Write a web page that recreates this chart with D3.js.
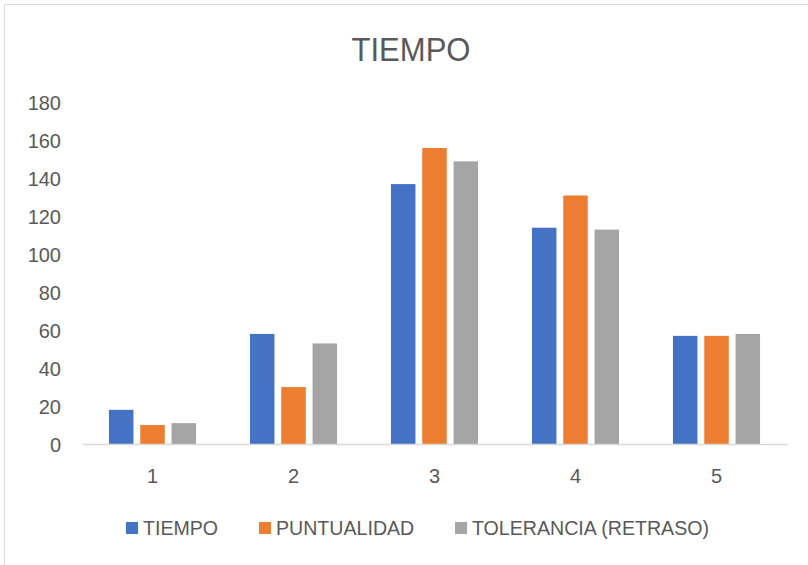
<!DOCTYPE html>
<html>
<head>
<meta charset="utf-8">
<script src="https://cdn.jsdelivr.net/npm/d3@7"></script>
<style>
  html, body { margin: 0; padding: 0; background: #fff; }
  svg { display: block; }
  text { font-family: "Liberation Sans", Arial, sans-serif; fill: #595959; }
</style>
</head>
<body>
<svg id="chart" width="808" height="565"></svg>
<script>
// Categories and series
const categories = ["1", "2", "3", "4", "5"];
const seriesNames = ["TIEMPO", "PUNTUALIDAD", "TOLERANCIA (RETRASO)"];
const tiempo = [18, 58, 137, 114, 57];
const puntualidad = [10, 30, 156, 131, 57];
const tolerancia = [11, 53, 149, 113, 58];
const yTicks = [0, 20, 40, 60, 80, 100, 120, 140, 160, 180];
const colors = ["#4472C4", "#ED7D31", "#A5A5A5"];
const chartTitle = "TIEMPO";

const seriesValues = [tiempo, puntualidad, tolerancia];

const svg = d3.select("#chart");
const W = 808, H = 565;

// chart frame
svg.append("path")
  .attr("d", `M4.5,${H} V4.5 H${W}`)
  .attr("fill", "none")
  .attr("stroke", "#D9D9D9")
  .attr("stroke-width", 1);

const plot = { left: 82, right: 787, top: 102.5, bottom: 444 };

const x = d3.scaleBand()
  .domain(categories)
  .range([plot.left, plot.right])
  .paddingInner(0)
  .paddingOuter(0);

const y = d3.scaleLinear()
  .domain([0, 180])
  .range([plot.bottom, plot.top]);

// bars inside each category: 3 bars with small gaps, centered
const barW = 24.5, barGap = 6.8;
const groupW = 3 * barW + 2 * barGap;
const inner = d3.scaleBand()
  .domain(seriesNames)
  .range([0, groupW])
  .paddingInner(barGap / (barW + barGap))
  .paddingOuter(0);

const rows = categories.map((c, i) => ({
  cat: c,
  vals: seriesNames.map((s, k) => ({ s, k, v: seriesValues[k][i] }))
}));

// y axis labels (no line)
const yAxis = d3.axisLeft(y).tickValues(yTicks).tickSize(0).tickPadding(0);
const gy = svg.append("g")
  .attr("transform", `translate(61,0)`)
  .call(yAxis);
gy.select(".domain").remove();
gy.selectAll("text")
  .attr("font-size", 20)
  .attr("fill", "#595959")
  .attr("font-family", "Liberation Sans, Arial, sans-serif")
  .attr("dy", "0.36em");

// bars
const groups = svg.append("g").selectAll("g")
  .data(rows)
  .join("g")
  .attr("transform", d => `translate(${x(d.cat) + (x.bandwidth() - groupW) / 2},0)`);

groups.selectAll("rect")
  .data(d => d.vals)
  .join("rect")
  .attr("x", d => inner(d.s))
  .attr("width", inner.bandwidth())
  .attr("y", d => y(d.v))
  .attr("height", d => y(0) - y(d.v))
  .attr("fill", d => colors[d.k]);

// x axis baseline and category labels
const xAxis = d3.axisBottom(x).tickSize(0).tickPadding(0);
const gx = svg.append("g")
  .attr("transform", `translate(0,${plot.bottom})`)
  .call(xAxis);
gx.select(".domain")
  .attr("stroke", "#D9D9D9")
  .attr("stroke-width", 1.5);
gx.selectAll("text")
  .attr("font-size", 20)
  .attr("fill", "#595959")
  .attr("font-family", "Liberation Sans, Arial, sans-serif")
  .attr("y", 32)
  .attr("dy", "0.36em");

// title
svg.append("text")
  .attr("x", 411)
  .attr("y", 49)
  .attr("dy", "0.36em")
  .attr("text-anchor", "middle")
  .attr("font-family", "Roboto, sans-serif")
  .attr("font-weight", 300)
  .attr("font-size", 33)
  .attr("fill", "#595959")
  .attr("textLength", 119)
  .attr("lengthAdjust", "spacingAndGlyphs")
  .text(chartTitle);

// legend
const legendItems = [
  { name: seriesNames[0], sx: 126, tx: 143 },
  { name: seriesNames[1], sx: 259, tx: 276 },
  { name: seriesNames[2], sx: 455, tx: 472 }
];
const lg = svg.append("g");
const li = lg.selectAll("g").data(legendItems).join("g");
li.append("rect")
  .attr("x", d => d.sx)
  .attr("y", 522)
  .attr("width", 12)
  .attr("height", 12)
  .attr("fill", (d, i) => colors[i]);
li.append("text")
  .attr("x", d => d.tx)
  .attr("y", 528)
  .attr("dy", "0.36em")
  .attr("font-size", 19.6)
  .text(d => d.name);
</script>
</body>
</html>
